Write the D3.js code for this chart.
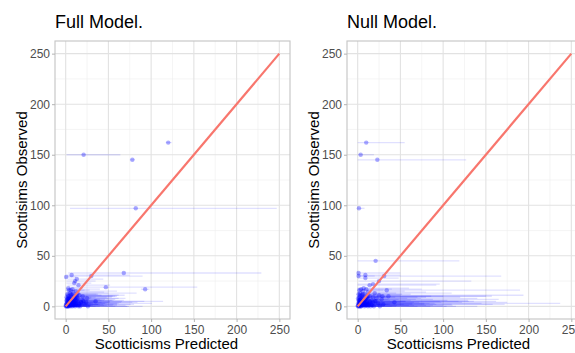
<!DOCTYPE html>
<html>
<head>
<meta charset="utf-8">
<script src="https://cdn.jsdelivr.net/npm/d3@7"></script>
<style>
  body { margin: 0; background: #fff; }
  text { font-family: "Liberation Sans", Arial, sans-serif; }
</style>
</head>
<body>
<div id="chart"></div>
<script>
var width = 575,
    height = 353;

var ticks = [0, 50, 100, 150, 200, 250];

// Full model: observed, predicted, lower, upper
var fullObs  = [162, 150, 145, 97, 33, 31, 30, 29, 27, 25, 23, 21, 19, 18, 17, 17, 16, 16, 15, 14, 13, 13, 12, 12, 11, 11, 10, 10, 10, 9, 9, 9, 8, 8, 8, 7, 7, 7, 6, 6, 6, 5, 5, 5, 5, 4, 4, 4, 4, 3, 3, 3, 3, 2, 2, 2, 2, 2, 1, 1, 1, 1, 1, 0, 0, 0, 0, 0, 0, 0, 1, 3, 6, 2, 4, 0, 1, 2, 3, 5, 0, 1, 2, 4, 8, 6,
                0, 1, 2, 3, 4, 5, 6, 7, 8, 9, 10, 11, 12, 1, 2, 3, 4, 5, 0, 1, 2, 3, 6, 7, 9, 0, 1, 2, 4, 5];
var fullPred = [120, 21, 78, 82, 68, 7, 30, 0.5, 13, 11, 10, 15, 47, 3, 93, 8, 6, 4, 12, 9, 5, 14, 2, 8, 6, 16, 3, 10, 20, 1, 7, 13, 4, 11, 25, 2, 6, 15, 1, 5, 9, 35, 3, 7, 12, 2, 4, 8, 18, 1, 3, 6, 10, 0.5, 2, 5, 9, 22, 0.3, 1.5, 4, 7, 14, 0.2, 1, 3, 6, 11, 17, 26, 10, 16, 20, 12, 24, 8, 2.5, 3.5, 4.5, 1.5, 2, 5.5, 7.5, 9.5, 3, 13,
                2, 3, 4, 5, 6, 7, 8, 9, 10, 11, 12, 13, 6, 5, 6.5, 8.5, 10.5, 14, 4, 9, 11, 12.5, 11, 4, 5, 15, 12, 16, 18, 21];
var fullLo   = [117, 1, 75, 5, 3, 1, 2, 0, 2, 1, 1, 2, 4, 0, 88, 1, 1, 0, 1, 1, 0, 2, 0, 1, 0, 2, 0, 1, 3, 0, 1, 1, 0, 1, 3, 0, 0, 2, 0, 0, 1, 3, 0, 1, 1, 0, 0, 1, 2, 0, 0, 0, 1, 0, 0, 0, 1, 3, 0, 0, 0, 0, 2, 0, 0, 0, 0, 1, 2, 4, 1, 2, 2, 1, 3, 0, 0, 0, 0, 0, 0, 0, 0, 1, 0, 1,
                0, 0, 0, 0, 0, 0, 1, 1, 1, 1, 1, 1, 0, 0, 0, 1, 1, 2, 0, 1, 1, 1, 1, 0, 0, 2, 1, 2, 2, 3];
var fullHi   = [124, 64, 81, 247, 229, 75, 90, 12, 44, 35, 30, 52, 154, 20, 98, 40, 28, 22, 60, 45, 83, 50, 18, 38, 69, 42, 25, 60, 55, 15, 35, 48, 30, 70, 62, 22, 40, 58, 12, 28, 45, 114, 20, 36, 52, 16, 26, 42, 65, 10, 101, 32, 48, 8, 18, 80, 38, 60, 6, 14, 70, 30, 45, 5, 10, 25, 40, 90, 58, 72, 55, 62, 68, 40, 78, 35, 20, 24, 28, 14, 16, 32, 44, 50, 22, 56,
                18, 22, 26, 30, 34, 38, 42, 46, 50, 54, 58, 62, 36, 30, 38, 46, 52, 66, 28, 48, 56, 60, 54, 26, 30, 74, 60, 76, 84, 92];

// Null model: observed, predicted, lower, upper
var nullObs  = [162, 150, 145, 97, 45, 33, 31, 30, 30, 28, 25, 22, 21, 18, 17, 17, 16, 16, 15, 14, 13, 13, 12, 12, 11, 11, 10, 10, 10, 9, 9, 9, 8, 8, 8, 7, 7, 7, 6, 6, 6, 5, 5, 5, 4, 4, 4, 4, 3, 3, 3, 3, 2, 2, 2, 2, 1, 1, 1, 1, 0, 0, 0, 0, 0, 0, 1, 2, 0, 3, 5, 1, 2, 4, 6, 0, 3,
                0, 1, 2, 3, 4, 5, 6, 7, 8, 9, 10, 11, 12, 1, 2, 3, 4, 5, 0, 1, 2, 3, 6, 7, 9, 0, 1, 2, 4, 5];
var nullPred = [10, 3.5, 23, 1.5, 21, 1, 9, 1, 31, 9, 25, 18, 14, 7, 4, 10, 34, 2, 6, 12, 3, 20, 8, 1, 25, 5, 29, 36, 14, 2, 10, 18, 6, 0.5, 22, 4, 12, 28, 1, 8, 16, 3, 11, 20, 2, 7, 43, 15, 0.5, 5, 9, 24, 1.5, 4, 13, 30, 0.3, 3, 7, 17, 0.2, 1, 4, 8, 12, 19, 10, 8, 26, 2, 6, 1.5, 3, 5, 2.5, 2.5, 11,
                2, 3, 4, 5, 6, 7, 8, 9, 10, 11, 12, 3, 6, 5, 6.5, 8.5, 10.5, 14, 4, 9, 11, 12.5, 2, 4, 5, 15, 12, 16, 18, 21];
var nullLo   = [0, 0, 0, 0, 0, 0, 0, 0, 1, 0, 1, 0, 0, 0, 0, 0, 1, 0, 0, 0, 0, 0, 0, 0, 1, 0, 1, 1, 0, 0, 0, 0, 0, 0, 0, 0, 0, 1, 0, 0, 0, 0, 0, 0, 0, 0, 1, 0, 0, 0, 0, 1, 0, 0, 0, 1, 0, 0, 0, 0, 0, 0, 0, 0, 0, 0, 0, 0, 1, 0, 0, 0, 0, 0, 0, 0, 0,
                0, 0, 0, 0, 0, 0, 0, 0, 0, 0, 0, 0, 0, 0, 0, 0, 0, 0, 0, 0, 0, 0, 0, 0, 0, 0, 0, 0, 0, 0];
var nullHi   = [55, 19, 127, 8, 119, 50, 50, 20, 168, 48, 133, 96, 92, 60, 40, 75, 190, 30, 55, 80, 45, 110, 62, 22, 194, 50, 157, 150, 100, 35, 70, 120, 58, 12, 140, 48, 88, 165, 25, 129, 105, 162, 130, 118, 32, 66, 175, 98, 15, 237, 78, 145, 28, 158, 92, 172, 10, 111, 60, 100, 6, 20, 45, 70, 85, 115, 80, 64, 140, 30, 56, 24, 36, 42, 38, 18, 90,
                26, 32, 38, 44, 50, 56, 62, 68, 74, 80, 86, 30, 52, 46, 54, 64, 72, 96, 40, 66, 78, 84, 28, 36, 44, 104, 88, 110, 122, 136];

var svg = d3.select("#chart").append("svg")
    .attr("width", width)
    .attr("height", height);

function drawPanel(left, title, obs, pred, lo, hi) {
  var top = 41, bottom = 319,
      right = left + 235;

  var x = d3.scaleLinear().domain([-12.5, 262.5]).range([left, right]);
  var y = d3.scaleLinear().domain([-12.5, 262.5]).range([bottom, top]);

  var g = svg.append("g");

  // minor grid
  var minor = [25, 75, 125, 175, 225];
  g.selectAll(".mx").data(minor).enter().append("line")
      .attr("x1", d => x(d)).attr("x2", d => x(d))
      .attr("y1", top).attr("y2", bottom)
      .attr("stroke", "#efefef").attr("stroke-width", 0.6);
  g.selectAll(".my").data(minor).enter().append("line")
      .attr("y1", d => y(d)).attr("y2", d => y(d))
      .attr("x1", left).attr("x2", right)
      .attr("stroke", "#efefef").attr("stroke-width", 0.6);

  // major grid
  g.selectAll(".gx").data(ticks).enter().append("line")
      .attr("x1", d => x(d)).attr("x2", d => x(d))
      .attr("y1", top).attr("y2", bottom)
      .attr("stroke", "#e2e2e2").attr("stroke-width", 1.1);
  g.selectAll(".gy").data(ticks).enter().append("line")
      .attr("y1", d => y(d)).attr("y2", d => y(d))
      .attr("x1", left).attr("x2", right)
      .attr("stroke", "#e2e2e2").attr("stroke-width", 1.1);

  var idx = d3.range(obs.length);

  // error bars
  g.selectAll(".bar").data(idx).enter().append("line")
      .attr("x1", i => x(lo[i])).attr("x2", i => x(hi[i]))
      .attr("y1", i => y(obs[i])).attr("y2", i => y(obs[i]))
      .attr("stroke", "#0000ff").attr("stroke-opacity", 0.12)
      .attr("stroke-width", 1.3);

  // points
  g.selectAll(".pt").data(idx).enter().append("circle")
      .attr("cx", i => x(pred[i])).attr("cy", i => y(obs[i]))
      .attr("r", 2.2)
      .attr("fill", "#0000ff").attr("fill-opacity", 0.33);

  // y = x line
  g.append("line")
      .attr("x1", x(0)).attr("y1", y(0))
      .attr("x2", x(250)).attr("y2", y(250))
      .attr("stroke", "#f8766d").attr("stroke-width", 2.2);

  // border
  g.append("rect")
      .attr("x", left).attr("y", top)
      .attr("width", right - left).attr("height", bottom - top)
      .attr("fill", "none").attr("stroke", "#c4c4c4").attr("stroke-width", 1.1);

  // axes
  var xa = g.append("g").attr("transform", "translate(0," + bottom + ")")
      .call(d3.axisBottom(x).tickValues(ticks).tickSize(3).tickPadding(3));
  var ya = g.append("g").attr("transform", "translate(" + left + ",0)")
      .call(d3.axisLeft(y).tickValues(ticks).tickSize(3).tickPadding(2));
  [xa, ya].forEach(function(a) {
    a.select(".domain").remove();
    a.selectAll(".tick line").attr("stroke", "#b3b3b3");
    a.selectAll(".tick text")
        .attr("fill", "#4d4d4d")
        .style("font-size", "12px")
        .style("font-family", "Liberation Sans, Arial, sans-serif");
  });

  // titles
  g.append("text")
      .attr("x", left).attr("y", 28)
      .attr("font-size", 18).attr("fill", "#000")
      .text(title);

  g.append("text")
      .attr("x", x(118)).attr("y", 349)
      .attr("text-anchor", "middle")
      .attr("font-size", 15).attr("fill", "#000")
      .text("Scotticisms Predicted");

  g.append("text")
      .attr("transform", "translate(" + (left - 28) + "," + ((top + bottom) / 2) + ") rotate(-90)")
      .attr("text-anchor", "middle")
      .attr("font-size", 15).attr("fill", "#000")
      .text("Scottisims Observed");
}

drawPanel(55, "Full Model.", fullObs, fullPred, fullLo, fullHi);
drawPanel(347, "Null Model.", nullObs, nullPred, nullLo, nullHi);
</script>
</body>
</html>
